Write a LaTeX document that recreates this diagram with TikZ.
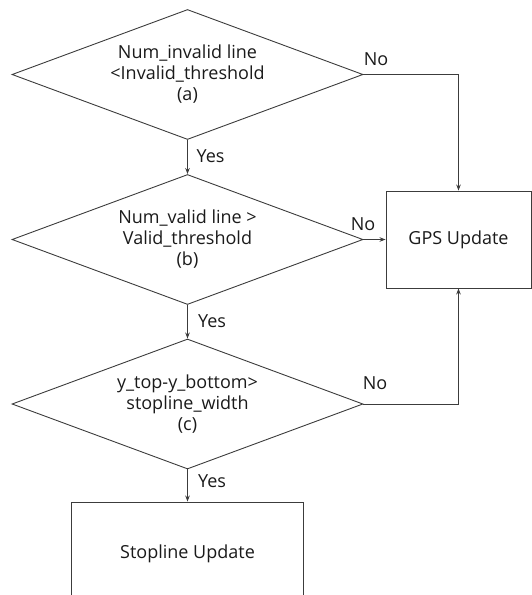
\documentclass[tikz,border=0pt]{standalone}
\usepackage{fontspec}
\setmainfont{Open Sans}
\usetikzlibrary{shapes.geometric,arrows.meta}
\definecolor{linegray}{HTML}{3C3C3C}
\definecolor{txt}{HTML}{1A1A1A}
\begin{document}
\begin{tikzpicture}[x=1pt,y=-1pt,
  line/.style={draw=linegray,line width=0.9pt},
  arr/.style={line,-{Stealth[length=6pt,width=4.5pt]}},
  decision/.style={diamond,shape aspect=2.7,draw=linegray,line width=0.9pt,minimum width=351pt,minimum height=130pt,inner sep=0pt,align=center,text=txt,font=\fontsize{18}{21}\selectfont},
  procbox/.style={rectangle,draw=linegray,line width=0.9pt,inner sep=0pt,text=txt,font=\fontsize{18}{21}\selectfont},
  lbl/.style={inner sep=0pt,text=txt,font=\fontsize{18}{21}\selectfont}]
\useasboundingbox (0,0) rectangle (532,595);
\clip (0,0) rectangle (532,595);
\node[decision] (a) at (187.5,74.5) {Num\_invalid line\\<Invalid\_threshold\\(a)};
\node[decision] (b) at (187.5,239.5) {Num\_valid line >\\Valid\_threshold\\(b)};
\node[decision] (c) at (187.5,404) {y\_top-y\_bottom>\\stopline\_width\\(c)};
\node[procbox,minimum width=145pt,minimum height=97pt] (gps) at (458.5,239.5) {GPS Update};
\node[procbox,minimum width=232.5pt,minimum height=104pt] (stop) at (187.5,554) {Stopline Update};
\draw[arr] (a.south) -- (b.north);
\draw[arr] (b.south) -- (c.north);
\draw[arr] (c.south) -- (stop.north);
\draw[arr] (a.east) -| (gps.north);
\draw[arr] (b.east) -- (gps.west);
\draw[arr] (c.east) -| (gps.south);
\node[lbl] (ya) at (210.5,156) {Yes};
\node[lbl] (yb) at (212,321) {Yes};
\node[lbl] (yc) at (212,481) {Yes};
\node[lbl] (na) at (376,59) {No};
\node[lbl] (nb) at (363,224) {No};
\node[lbl] (nc) at (375,383) {No};
\end{tikzpicture}
\end{document}
